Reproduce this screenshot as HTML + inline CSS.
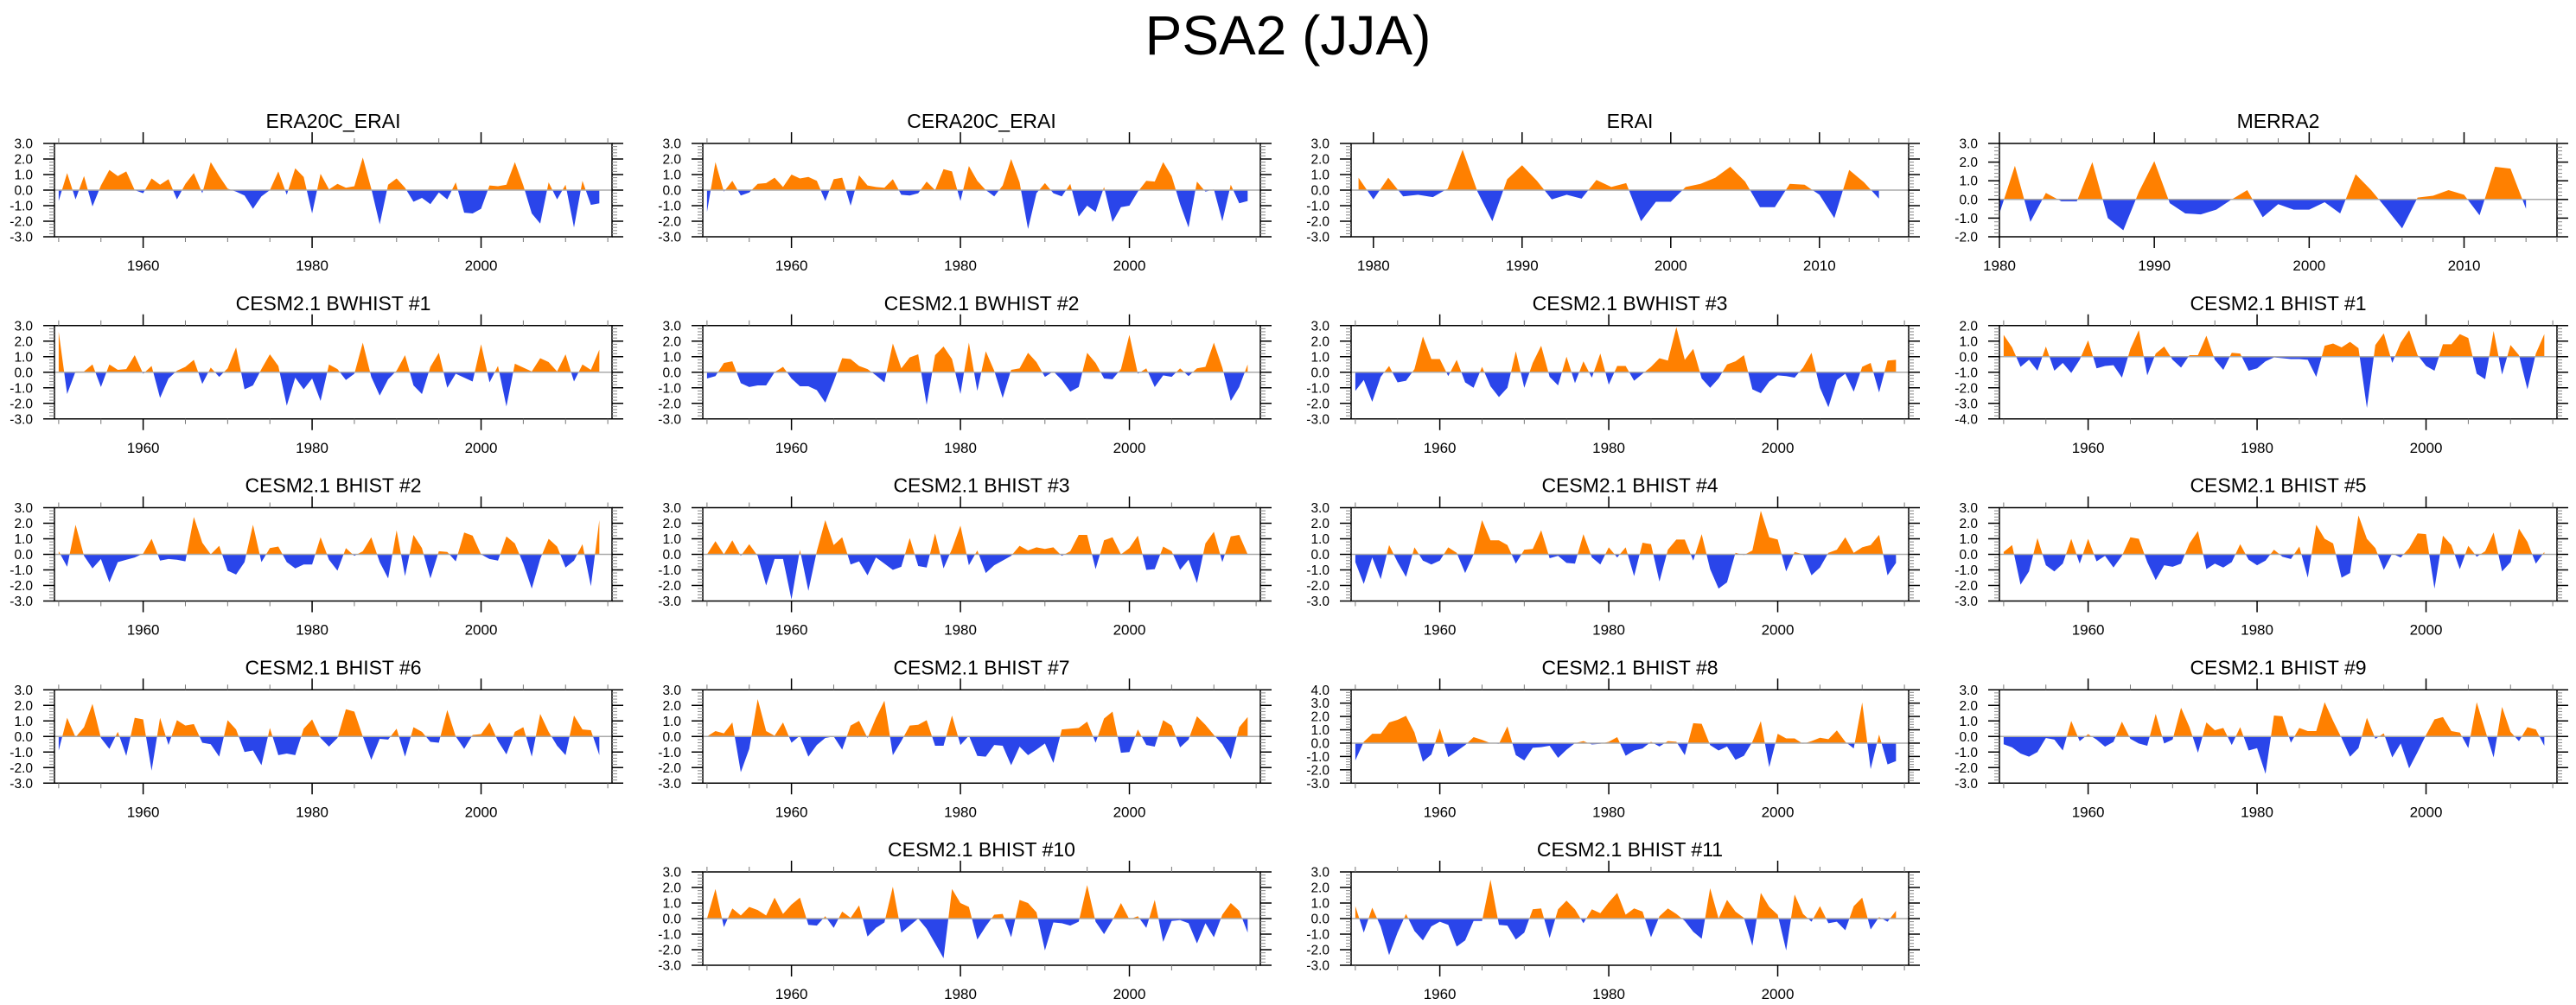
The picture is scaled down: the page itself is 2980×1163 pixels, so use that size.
<!DOCTYPE html>
<html>
<head>
<meta charset="utf-8">
<style>
  html, body { margin: 0; padding: 0; background: #fff; }
  svg { display: block; font-family: "Liberation Sans", Arial, sans-serif; }
</style>
</head>
<body>
<svg id="chart" xmlns="http://www.w3.org/2000/svg" width="2980" height="1163" viewBox="0 0 2980 1163">
  <rect x="0" y="0" width="2980" height="1163" fill="#ffffff"/>
  <text x="1490" y="63" text-anchor="middle" font-size="64" fill="#000">PSA2 (JJA)</text>
</svg>
<script>
// ---------------- data (one array per panel) ----------------
const era20cErai = [-0.7,1.1,-0.6,0.9,-1.05,0.3,1.3,0.9,1.2,0.0,-0.2,0.75,0.35,0.7,-0.6,0.4,1.1,-0.2,1.8,0.9,0.1,-0.1,-0.35,-1.2,-0.4,0.0,1.2,-0.3,1.4,0.85,-1.5,1.05,0.05,0.4,0.15,0.25,2.1,0.1,-2.2,0.35,0.75,0.15,-0.75,-0.5,-0.9,-0.15,-0.6,0.5,-1.45,-1.5,-1.2,0.3,0.25,0.35,1.8,0.3,-1.5,-2.15,0.5,-0.6,0.35,-2.4,0.6,-0.95,-0.85];
const cera20cErai = [-1.4,1.8,-0.1,0.6,-0.35,-0.15,0.4,0.45,0.8,0.2,1.0,0.75,0.85,0.6,-0.7,0.7,0.8,-1.0,0.95,0.3,0.2,0.15,0.7,-0.3,-0.35,-0.2,0.55,0.0,1.35,1.2,-0.7,1.55,0.6,0.0,-0.4,0.3,2.0,0.5,-2.5,-0.2,0.45,-0.2,-0.4,0.4,-1.7,-1.0,-1.4,0.2,-2.05,-1.1,-1.0,-0.1,0.6,0.55,1.8,0.9,-0.9,-2.4,0.55,-0.1,0.05,-2.0,0.35,-0.85,-0.7];
const erai = [0.8,-0.6,0.8,-0.4,-0.3,-0.45,0.1,2.6,-0.1,-2.0,0.7,1.6,0.6,-0.6,-0.3,-0.55,0.65,0.2,0.45,-2.0,-0.75,-0.75,0.2,0.4,0.8,1.5,0.55,-1.1,-1.1,0.4,0.35,-0.3,-1.8,1.3,0.5,-0.55];
const merra2 = [-0.75,1.8,-1.2,0.35,-0.1,-0.1,2.0,-1.0,-1.65,0.4,2.05,-0.2,-0.75,-0.8,-0.55,0.0,0.5,-0.95,-0.25,-0.55,-0.55,-0.15,-0.75,1.35,0.5,-0.5,-1.55,0.1,0.2,0.5,0.25,-0.85,1.75,1.65,-0.5];
const bwhist1 = [2.6,-1.4,0.05,0.05,0.5,-0.95,0.5,0.15,0.2,1.1,-0.1,0.4,-1.65,-0.4,0.1,0.35,0.8,-0.75,0.3,-0.3,0.25,1.6,-1.1,-0.85,0.2,1.15,0.4,-2.15,-0.35,-1.1,-0.4,-1.85,0.5,0.2,-0.5,-0.1,1.9,-0.3,-1.5,-0.45,0.1,1.1,-0.85,-1.4,0.35,1.25,-1.0,-0.1,-0.35,-0.6,1.8,-0.65,0.4,-2.2,0.55,0.3,0.05,0.9,0.65,0.05,1.15,-0.6,0.5,0.15,1.45];
const bwhist2 = [-0.4,-0.25,0.6,0.7,-0.7,-0.95,-0.85,-0.85,0.0,0.35,-0.4,-0.9,-0.9,-1.15,-1.95,-0.6,0.9,0.85,0.4,0.2,-0.2,-0.65,1.85,0.25,0.95,1.15,-2.1,1.1,1.65,0.85,-1.4,1.9,-1.2,1.35,0.1,-1.65,0.15,0.25,1.25,0.65,-0.3,0.05,-0.5,-1.25,-0.95,1.25,0.6,-0.4,-0.45,0.2,2.4,-0.1,0.25,-0.95,-0.2,-0.3,0.25,-0.25,0.25,0.35,1.9,0.3,-1.85,-0.95,0.5];
const bwhist3 = [-1.2,-0.5,-1.9,-0.3,0.4,-0.65,-0.55,0.2,2.3,0.85,0.85,-0.25,0.8,-0.65,-1.0,0.35,-0.9,-1.6,-1.0,1.35,-1.0,0.6,1.7,-0.3,-0.85,1.0,-0.7,0.7,-0.35,1.2,-0.8,0.4,0.4,-0.55,-0.1,0.35,0.9,0.75,2.9,0.8,1.5,-0.4,-1.0,-0.4,0.5,0.7,1.1,-1.1,-1.35,-0.6,-0.2,-0.25,-0.35,0.3,1.25,-1.0,-2.25,-0.5,-0.1,-1.25,0.35,0.6,-1.3,0.75,0.8];
const bhist1 = [1.4,0.6,-0.65,-0.2,-0.9,0.65,-0.9,-0.4,-1.05,-0.2,1.05,-0.75,-0.6,-0.55,-1.35,0.5,1.7,-1.2,0.2,0.65,-0.2,-0.7,0.1,0.1,1.35,-0.2,-0.85,0.25,0.2,-0.9,-0.75,-0.3,-0.05,-0.1,-0.15,-0.15,-0.2,-1.3,0.7,0.85,0.6,0.95,0.55,-3.3,0.75,1.5,-0.4,0.9,1.7,0.1,-0.6,-0.9,0.8,0.8,1.45,1.2,-1.1,-1.45,1.65,-1.15,0.75,0.1,-2.1,0.2,1.45];
const bhist2 = [0.2,-0.8,1.9,-0.1,-0.9,-0.3,-1.8,-0.5,-0.35,-0.2,0.05,1.0,-0.4,-0.3,-0.35,-0.45,2.4,0.75,0.0,0.55,-1.05,-1.3,-0.5,1.9,-0.5,0.4,0.5,-0.5,-0.9,-0.65,-0.65,1.1,-0.35,-1.05,0.4,-0.1,0.2,1.1,-0.5,-1.55,1.55,-1.4,1.25,0.4,-1.55,0.2,0.15,-0.45,1.4,1.2,0.0,-0.3,-0.4,1.15,0.7,-0.6,-2.2,-0.3,1.0,0.5,-0.85,-0.4,0.65,-2.05,2.2];
const bhist3 = [0.0,0.85,0.0,0.9,-0.1,0.65,-0.1,-2.0,-0.3,-0.3,-2.9,0.3,-2.35,0.2,2.2,0.6,1.1,-0.65,-0.45,-1.35,-0.2,-0.6,-1.0,-0.8,1.05,-0.75,-0.85,1.35,-0.9,0.35,1.85,-0.7,0.25,-1.2,-0.7,-0.4,-0.1,0.55,0.25,0.45,0.35,0.45,-0.1,0.2,1.25,1.25,-0.95,0.9,1.1,0.0,0.4,1.2,-1.0,-0.95,0.5,0.2,-1.0,-0.35,-1.85,0.7,1.45,-0.5,1.15,1.25,0.0];
const bhist4 = [-0.5,-1.9,-0.2,-1.6,0.6,-0.5,-1.45,0.45,-0.4,-0.65,-0.4,0.45,0.1,-1.2,0.0,2.2,0.9,0.9,0.6,-0.6,0.3,0.35,1.55,-0.25,-0.1,-0.55,-0.6,1.3,-0.2,-0.65,0.45,-0.2,0.45,-1.4,0.75,0.65,-1.75,0.3,0.95,0.95,-0.4,1.3,-0.95,-2.2,-1.8,0.1,-0.05,0.25,2.8,1.1,0.95,-1.1,0.15,0.0,-1.35,-0.85,0.1,0.3,1.1,0.1,0.45,0.6,1.25,-1.35,-0.55];
const bhist5 = [0.15,0.6,-1.95,-1.1,1.05,-0.7,-1.1,-0.6,1.0,-0.6,1.0,-0.45,-0.1,-0.85,-0.1,1.1,1.0,-0.5,-1.65,-0.7,-0.8,-0.6,0.7,1.5,-0.95,-0.6,-0.85,-0.5,0.65,-0.35,-0.7,-0.4,0.3,-0.15,-0.3,0.5,-1.5,1.9,1.0,0.7,-1.5,-1.2,2.5,1.0,0.4,-1.0,0.05,-0.2,0.4,1.35,1.3,-2.2,1.2,0.6,-0.95,0.55,-0.15,0.2,1.4,-1.1,-0.5,1.65,0.8,-0.6,0.15];
const bhist6 = [-0.9,1.2,-0.05,0.6,2.1,-0.1,-0.8,0.3,-1.25,1.2,1.1,-2.2,1.2,-0.55,1.05,0.7,0.8,-0.4,-0.5,-1.3,1.05,0.45,-1.0,-0.9,-1.85,0.55,-1.2,-1.1,-1.2,0.5,1.1,-0.1,-0.65,-0.1,1.75,1.6,0.0,-1.5,-0.15,-0.2,0.5,-1.3,0.6,0.3,-0.35,-0.4,1.7,0.0,-0.8,0.1,0.15,0.9,-0.3,-1.15,0.3,0.6,-1.3,1.45,0.3,-0.6,-1.2,1.35,0.45,0.4,-1.2];
const bhist7 = [0.0,0.35,0.2,0.9,-2.3,-0.8,2.4,0.35,0.05,0.9,-0.4,0.05,-1.3,-0.55,-0.1,0.0,-0.85,0.7,1.0,-0.1,1.2,2.3,-1.2,-0.3,0.7,0.75,1.05,-0.6,-0.6,1.35,-0.55,0.05,-1.25,-1.3,-0.55,-0.6,-1.85,-0.65,-1.2,-0.85,-0.45,-1.7,0.45,0.5,0.55,0.95,-0.4,1.15,1.6,-1.05,-1.0,0.45,-0.55,-0.65,1.05,0.7,-0.7,-0.2,1.3,0.75,0.1,-0.5,-1.45,0.6,1.25];
const bhist8 = [-1.3,0.1,0.7,0.7,1.55,1.75,2.05,0.8,-1.4,-0.85,1.1,-1.05,-0.6,-0.15,0.45,0.25,0.0,-0.05,1.25,-0.9,-1.3,-0.35,-0.3,-0.2,-1.1,-0.5,0.0,0.15,-0.1,-0.05,0.1,0.45,-0.95,-0.55,-0.4,0.1,-0.25,0.15,0.1,-0.9,1.5,1.45,-0.15,-0.55,-0.25,-1.25,-0.95,0.1,1.65,-1.8,0.7,0.35,0.35,-0.05,0.15,0.4,0.3,0.95,0.1,-0.4,3.05,-1.95,0.65,-1.6,-1.35];
const bhist9 = [-0.5,-0.7,-1.1,-1.3,-1.0,-0.1,-0.2,-0.9,1.0,-0.3,0.15,-0.2,-0.65,-0.35,0.95,-0.15,-0.45,-0.6,1.45,-0.45,-0.2,1.85,0.6,-1.05,0.9,0.4,0.55,-0.55,0.6,-0.9,-0.75,-2.4,1.35,1.3,-0.4,0.55,0.35,0.35,2.2,1.0,-0.1,-1.3,-0.75,1.2,-0.15,0.2,-1.35,-0.45,-2.05,-1.0,0.1,1.1,1.25,0.35,0.25,-0.75,2.2,0.4,-1.35,1.9,0.3,-0.3,0.6,0.45,-0.6];
const bhist10 = [0.0,1.9,-0.55,0.65,0.2,0.75,0.55,0.2,1.35,0.3,0.9,1.35,-0.4,-0.45,0.15,-0.6,0.45,0.05,0.85,-1.15,-0.6,-0.25,2.05,-0.9,-0.45,0.0,-0.65,-1.6,-2.55,1.9,1.0,0.75,-1.35,-0.5,0.25,0.3,-1.2,1.2,1.0,0.4,-2.05,-0.25,-0.3,-0.45,-0.2,2.15,-0.2,-1.0,-0.1,1.0,-0.05,0.15,-0.6,1.2,-1.5,-0.15,-0.1,-0.3,-1.6,-0.3,-1.2,0.25,1.0,0.5,-0.9];
const bhist11 = [0.8,-0.9,0.7,-0.5,-2.35,-0.9,0.3,-0.8,-1.4,-0.5,-0.2,-0.4,-1.8,-1.4,-0.15,-0.15,2.5,-0.4,-0.45,-1.35,-0.9,0.6,0.65,-1.25,0.6,1.15,0.6,-0.3,0.6,0.35,1.05,1.65,0.25,0.65,0.45,-1.2,0.15,0.65,0.3,-0.15,-0.85,-1.3,1.95,0.0,1.2,0.45,0.05,-1.75,1.65,0.75,0.25,-2.05,1.55,0.3,-0.2,0.8,-0.3,-0.2,-0.75,0.8,1.35,-0.7,0.1,-0.2,0.5];

const panelTitles = ["ERA20C_ERAI","CERA20C_ERAI","ERAI","MERRA2",
  "CESM2.1 BWHIST #1","CESM2.1 BWHIST #2","CESM2.1 BWHIST #3","CESM2.1 BHIST #1",
  "CESM2.1 BHIST #2","CESM2.1 BHIST #3","CESM2.1 BHIST #4","CESM2.1 BHIST #5",
  "CESM2.1 BHIST #6","CESM2.1 BHIST #7","CESM2.1 BHIST #8","CESM2.1 BHIST #9",
  "CESM2.1 BHIST #10","CESM2.1 BHIST #11"];
const panelSeries = [era20cErai,cera20cErai,erai,merra2,bwhist1,bwhist2,bwhist3,bhist1,
  bhist2,bhist3,bhist4,bhist5,bhist6,bhist7,bhist8,bhist9,bhist10,bhist11];
const panelStartYears = [1950,1950,1979,1980,1950,1950,1950,1950,1950,1950,1950,1950,1950,1950,1950,1950,1950,1950];
const panelYMin = [-3,-3,-3,-2,-3,-3,-3,-4,-3,-3,-3,-3,-3,-3,-3,-3,-3,-3];
const panelYMax = [3,3,3,3,3,3,3,2,3,3,3,3,3,3,4,3,3,3];
const longXLabels = [1960,1980,2000];
const shortXLabels = [1980,1990,2000,2010];

// ---------------- layout (not data) ----------------
const NS = "http://www.w3.org/2000/svg";
const svg = document.getElementById("chart");
const PW = 645, PH = 108;
const gridPos = [[0,0],[1,0],[2,0],[3,0],[0,1],[1,1],[2,1],[3,1],[0,2],[1,2],[2,2],[3,2],[0,3],[1,3],[2,3],[3,3],[1,4],[2,4]];

function mk(tag, attrs, parent) {
  const e = document.createElementNS(NS, tag);
  for (const k in attrs) e.setAttribute(k, attrs[k]);
  (parent || svg).appendChild(e);
  return e;
}

panelSeries.forEach((vals, p) => {
  const L = 63 + 750 * gridPos[p][0];
  const T = 166 + 210.75 * gridPos[p][1];
  const start = panelStartYears[p];
  const isShort = start > 1960;
  const xmin = isShort ? (start === 1979 ? 1978.5 : 1980) : 1949.5;
  const xmax = isShort ? 2016 : 2015.5;
  const ymin = panelYMin[p], ymax = panelYMax[p];
  const xs = yr => L + (yr - xmin) / (xmax - xmin) * PW;
  const ys = v => T + (ymax - v) / (ymax - ymin) * PH;
  const y0 = ys(0);

  const g = mk("g", {});
  
  

  const title = mk("text", {x: L + PW / 2, y: T - 18, "text-anchor": "middle", "font-size": 23, fill: "#000"}, g);
  title.textContent = panelTitles[p];
  
  

  const cid = "clip" + p;
  const defs = mk("defs", {}, g);
  const cpA = mk("clipPath", {id: cid + "a"}, defs);
  mk("rect", {x: L, y: T, width: PW, height: y0 - T}, cpA);
  const cpB = mk("clipPath", {id: cid + "b"}, defs);
  mk("rect", {x: L, y: y0, width: PW, height: T + PH - y0}, cpB);

  let pts = xs(start).toFixed(2) + "," + y0.toFixed(2) + " ";
  vals.forEach((v, i) => { pts += xs(start + i).toFixed(2) + "," + ys(v).toFixed(2) + " "; });
  pts += xs(start + vals.length - 1).toFixed(2) + "," + y0.toFixed(2);

  const pos = mk("polygon", {points: pts, fill: "#ff8000", "clip-path": "url(#" + cid + "a)"}, g);
  
  
  const neg = mk("polygon", {points: pts, fill: "#2a45ea", "clip-path": "url(#" + cid + "b)"}, g);
  
  

  const zl = mk("line", {x1: L, x2: L + PW, y1: y0, y2: y0, stroke: "#aaaaaa", "stroke-width": 1.5}, g);
  
  

  const frame = mk("rect", {x: L, y: T, width: PW, height: PH, fill: "none", stroke: "#000", "stroke-width": 1.5}, g);
  
  

  // y ticks
  for (let k = 0; k <= (ymax - ymin) * 5; k++) {
    const v = ymin + k * 0.2;
    const yy = ys(v);
    const major = k % 5 === 0;
    const len = major ? 13 : 6;
    mk("line", {x1: L - len, x2: L, y1: yy, y2: yy, stroke: major ? "#000" : "#888", "stroke-width": major ? 1.5 : 1}, g);
    mk("line", {x1: L + PW, x2: L + PW + len, y1: yy, y2: yy, stroke: major ? "#000" : "#888", "stroke-width": major ? 1.5 : 1}, g);
    if (major) {
      const lab = mk("text", {x: L - 25, y: yy + 5.5, "text-anchor": "end", "font-size": 15.5, fill: "#000"}, g);
      lab.textContent = Math.round(v).toFixed(1);
      
      
    }
  }

  // x ticks
  const labels = isShort ? shortXLabels : longXLabels;
  const minorStep = isShort ? 2 : 5;
  for (let yr = Math.ceil(xmin); yr <= xmax; yr++) {
    const major = labels.indexOf(yr) >= 0;
    if (!major && yr % minorStep !== 0) continue;
    const xx = xs(yr);
    const len = major ? 13 : 6;
    mk("line", {x1: xx, x2: xx, y1: T - len, y2: T, stroke: major ? "#000" : "#777", "stroke-width": major ? 1.5 : 1}, g);
    mk("line", {x1: xx, x2: xx, y1: T + PH, y2: T + PH + len, stroke: major ? "#000" : "#777", "stroke-width": major ? 1.5 : 1}, g);
    if (major) {
      const xl = mk("text", {x: xx, y: T + 147, "text-anchor": "middle", "font-size": 17, fill: "#000"}, g);
      xl.textContent = String(yr);
      
      
    }
  }
});
</script>
</body>
</html>
